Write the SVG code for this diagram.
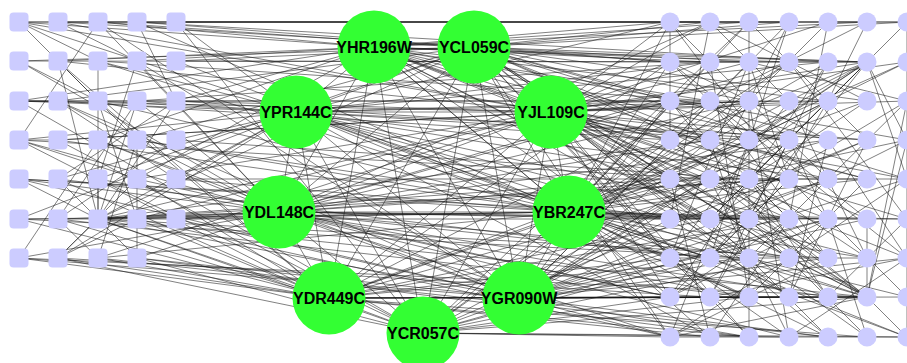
<svg xmlns="http://www.w3.org/2000/svg" width="907" height="363" viewBox="0 0 907 363">
<style>
.e line{stroke:#1a1a1a;stroke-opacity:.55;stroke-width:1}
.sq{fill:#ccccff}
.ci{fill:#ccccff}
.hub circle{fill:#33ff33}
.hub text{font-family:"Liberation Sans",Arial,sans-serif;font-weight:bold;font-size:16px;text-anchor:middle;fill:#000}
</style>
<rect width="907" height="363" fill="#fff"/>
<g id="edges" class="e">
<!-- hub-hub -->
<line x1="374" y1="45" x2="474" y2="45"/><line x1="374" y1="49" x2="474" y2="49"/>
<line x1="374" y1="47" x2="296" y2="112"/><line x1="374" y1="47" x2="551" y2="112"/><line x1="374" y1="47" x2="279" y2="212"/><line x1="374" y1="47" x2="569" y2="212"/><line x1="374" y1="47" x2="329" y2="298"/><line x1="374" y1="47" x2="519" y2="298"/><line x1="374" y1="47" x2="423" y2="333"/>
<line x1="474" y1="47" x2="296" y2="112"/><line x1="474" y1="47" x2="551" y2="112"/><line x1="474" y1="47" x2="279" y2="212"/><line x1="474" y1="47" x2="569" y2="212"/><line x1="474" y1="47" x2="329" y2="298"/><line x1="474" y1="47" x2="519" y2="298"/><line x1="474" y1="47" x2="423" y2="333"/>
<line x1="296" y1="112" x2="551" y2="112"/><line x1="296" y1="112" x2="279" y2="212"/><line x1="296" y1="112" x2="569" y2="212"/><line x1="296" y1="112" x2="329" y2="298"/><line x1="296" y1="112" x2="519" y2="298"/><line x1="296" y1="112" x2="423" y2="333"/>
<line x1="551" y1="112" x2="279" y2="212"/><line x1="551" y1="112" x2="569" y2="212"/><line x1="551" y1="112" x2="329" y2="298"/><line x1="551" y1="112" x2="519" y2="298"/><line x1="551" y1="112" x2="423" y2="333"/>
<line x1="279" y1="212" x2="569" y2="212"/><line x1="279" y1="212" x2="329" y2="298"/><line x1="279" y1="212" x2="519" y2="298"/><line x1="279" y1="212" x2="423" y2="333"/>
<line x1="569" y1="212" x2="329" y2="298"/><line x1="569" y1="212" x2="519" y2="298"/><line x1="569" y1="212" x2="423" y2="333"/>
<line x1="329" y1="298" x2="519" y2="298"/><line x1="329" y1="298" x2="423" y2="333"/><line x1="519" y1="298" x2="423" y2="333"/>
<!-- YHR196W -->
<line x1="374" y1="47" x2="19" y2="22"/><line x1="374" y1="47" x2="98" y2="22"/><line x1="374" y1="47" x2="58" y2="61"/><line x1="374" y1="47" x2="137" y2="61"/><line x1="374" y1="47" x2="19" y2="101"/><line x1="374" y1="47" x2="176" y2="101"/><line x1="374" y1="47" x2="98" y2="140"/><line x1="374" y1="47" x2="137" y2="179"/>
<line x1="374" y1="47" x2="670" y2="22"/><line x1="374" y1="47" x2="749" y2="22"/><line x1="374" y1="47" x2="867" y2="22"/><line x1="374" y1="47" x2="710" y2="62"/><line x1="374" y1="47" x2="789" y2="62"/><line x1="374" y1="47" x2="867" y2="62"/><line x1="374" y1="47" x2="710" y2="101"/><line x1="374" y1="47" x2="828" y2="101"/><line x1="374" y1="47" x2="670" y2="140"/><line x1="374" y1="47" x2="789" y2="140"/><line x1="374" y1="47" x2="907" y2="140"/><line x1="374" y1="47" x2="749" y2="179"/><line x1="374" y1="47" x2="867" y2="179"/><line x1="374" y1="47" x2="710" y2="219"/><line x1="374" y1="47" x2="828" y2="219"/><line x1="374" y1="47" x2="749" y2="258"/><line x1="374" y1="47" x2="907" y2="258"/><line x1="374" y1="47" x2="670" y2="297"/><line x1="374" y1="47" x2="867" y2="297"/><line x1="374" y1="47" x2="789" y2="337"/>
<!-- YCL059C -->
<line x1="474" y1="47" x2="58" y2="22"/><line x1="474" y1="47" x2="137" y2="22"/><line x1="474" y1="47" x2="19" y2="61"/><line x1="474" y1="47" x2="176" y2="61"/><line x1="474" y1="47" x2="58" y2="101"/><line x1="474" y1="47" x2="137" y2="140"/><line x1="474" y1="47" x2="98" y2="179"/><line x1="474" y1="47" x2="98" y2="219"/>
<line x1="474" y1="47" x2="710" y2="22"/><line x1="474" y1="47" x2="789" y2="22"/><line x1="474" y1="47" x2="907" y2="22"/><line x1="474" y1="47" x2="670" y2="62"/><line x1="474" y1="47" x2="749" y2="62"/><line x1="474" y1="47" x2="867" y2="62"/><line x1="474" y1="47" x2="670" y2="101"/><line x1="474" y1="47" x2="749" y2="101"/><line x1="474" y1="47" x2="867" y2="101"/><line x1="474" y1="47" x2="710" y2="140"/><line x1="474" y1="47" x2="828" y2="140"/><line x1="474" y1="47" x2="670" y2="179"/><line x1="474" y1="47" x2="789" y2="179"/><line x1="474" y1="47" x2="907" y2="179"/><line x1="474" y1="47" x2="749" y2="219"/><line x1="474" y1="47" x2="867" y2="219"/><line x1="474" y1="47" x2="670" y2="258"/><line x1="474" y1="47" x2="789" y2="258"/><line x1="474" y1="47" x2="710" y2="297"/><line x1="474" y1="47" x2="867" y2="297"/><line x1="474" y1="47" x2="670" y2="337"/><line x1="474" y1="47" x2="828" y2="337"/>
<!-- YPR144C -->
<line x1="296" y1="112" x2="19" y2="22"/><line x1="296" y1="112" x2="176" y2="22"/><line x1="296" y1="112" x2="98" y2="61"/><line x1="296" y1="112" x2="19" y2="101"/><line x1="296" y1="112" x2="98" y2="101"/><line x1="296" y1="112" x2="137" y2="101"/><line x1="296" y1="112" x2="19" y2="140"/><line x1="296" y1="112" x2="176" y2="140"/><line x1="296" y1="112" x2="58" y2="179"/><line x1="296" y1="112" x2="176" y2="179"/><line x1="296" y1="112" x2="19" y2="219"/><line x1="296" y1="112" x2="98" y2="219"/><line x1="296" y1="112" x2="58" y2="258"/>
<line x1="296" y1="112" x2="670" y2="22"/><line x1="296" y1="112" x2="710" y2="62"/><line x1="296" y1="112" x2="828" y2="62"/><line x1="296" y1="112" x2="670" y2="101"/><line x1="296" y1="112" x2="789" y2="101"/><line x1="296" y1="112" x2="749" y2="140"/><line x1="296" y1="112" x2="867" y2="140"/><line x1="296" y1="112" x2="710" y2="179"/><line x1="296" y1="112" x2="828" y2="179"/><line x1="296" y1="112" x2="670" y2="219"/><line x1="296" y1="112" x2="789" y2="219"/><line x1="296" y1="112" x2="710" y2="258"/><line x1="296" y1="112" x2="867" y2="258"/><line x1="296" y1="112" x2="749" y2="297"/><line x1="296" y1="112" x2="867" y2="297"/><line x1="296" y1="112" x2="710" y2="337"/>
<!-- YJL109C -->
<line x1="551" y1="112" x2="19" y2="22"/><line x1="551" y1="112" x2="58" y2="22"/><line x1="551" y1="112" x2="58" y2="61"/><line x1="551" y1="112" x2="19" y2="101"/><line x1="551" y1="112" x2="176" y2="101"/><line x1="551" y1="112" x2="58" y2="140"/><line x1="551" y1="112" x2="137" y2="179"/><line x1="551" y1="112" x2="98" y2="219"/><line x1="551" y1="112" x2="137" y2="219"/><line x1="551" y1="112" x2="98" y2="258"/>
<line x1="551" y1="112" x2="670" y2="22"/><line x1="551" y1="112" x2="710" y2="22"/><line x1="551" y1="112" x2="828" y2="22"/><line x1="551" y1="112" x2="670" y2="62"/><line x1="551" y1="112" x2="749" y2="62"/><line x1="551" y1="112" x2="867" y2="62"/><line x1="551" y1="112" x2="907" y2="62"/><line x1="551" y1="112" x2="710" y2="101"/><line x1="551" y1="112" x2="749" y2="101"/><line x1="551" y1="112" x2="828" y2="101"/><line x1="551" y1="112" x2="907" y2="101"/><line x1="551" y1="112" x2="670" y2="140"/><line x1="551" y1="112" x2="710" y2="140"/><line x1="551" y1="112" x2="789" y2="140"/><line x1="551" y1="112" x2="867" y2="140"/><line x1="551" y1="112" x2="670" y2="179"/><line x1="551" y1="112" x2="749" y2="179"/><line x1="551" y1="112" x2="828" y2="179"/><line x1="551" y1="112" x2="907" y2="179"/><line x1="551" y1="112" x2="710" y2="219"/><line x1="551" y1="112" x2="789" y2="219"/><line x1="551" y1="112" x2="907" y2="219"/><line x1="551" y1="112" x2="670" y2="258"/><line x1="551" y1="112" x2="749" y2="258"/><line x1="551" y1="112" x2="828" y2="258"/><line x1="551" y1="112" x2="670" y2="297"/><line x1="551" y1="112" x2="789" y2="297"/><line x1="551" y1="112" x2="867" y2="297"/><line x1="551" y1="112" x2="749" y2="337"/><line x1="551" y1="112" x2="867" y2="337"/>
<!-- YDL148C -->
<line x1="279" y1="212" x2="98" y2="22"/><line x1="279" y1="212" x2="19" y2="61"/><line x1="279" y1="212" x2="137" y2="61"/><line x1="279" y1="212" x2="58" y2="101"/><line x1="279" y1="212" x2="137" y2="101"/><line x1="279" y1="212" x2="19" y2="140"/><line x1="279" y1="212" x2="98" y2="140"/><line x1="279" y1="212" x2="19" y2="179"/><line x1="279" y1="212" x2="98" y2="179"/><line x1="279" y1="212" x2="58" y2="219"/><line x1="279" y1="212" x2="98" y2="219"/><line x1="279" y1="212" x2="137" y2="219"/><line x1="279" y1="212" x2="176" y2="219"/><line x1="279" y1="212" x2="19" y2="258"/><line x1="279" y1="212" x2="137" y2="258"/>
<line x1="279" y1="212" x2="710" y2="22"/><line x1="279" y1="212" x2="789" y2="62"/><line x1="279" y1="212" x2="670" y2="101"/><line x1="279" y1="212" x2="749" y2="101"/><line x1="279" y1="212" x2="710" y2="140"/><line x1="279" y1="212" x2="828" y2="140"/><line x1="279" y1="212" x2="710" y2="179"/><line x1="279" y1="212" x2="789" y2="179"/><line x1="279" y1="212" x2="670" y2="219"/><line x1="279" y1="212" x2="749" y2="219"/><line x1="279" y1="212" x2="867" y2="219"/><line x1="279" y1="212" x2="710" y2="258"/><line x1="279" y1="212" x2="789" y2="258"/><line x1="279" y1="212" x2="670" y2="297"/><line x1="279" y1="212" x2="749" y2="297"/><line x1="279" y1="212" x2="828" y2="297"/><line x1="279" y1="212" x2="670" y2="337"/><line x1="279" y1="212" x2="789" y2="337"/>
<!-- YBR247C -->
<line x1="569" y1="212" x2="137" y2="22"/><line x1="569" y1="212" x2="98" y2="61"/><line x1="569" y1="212" x2="176" y2="61"/><line x1="569" y1="212" x2="98" y2="101"/><line x1="569" y1="212" x2="58" y2="140"/><line x1="569" y1="212" x2="137" y2="140"/><line x1="569" y1="212" x2="19" y2="179"/><line x1="569" y1="212" x2="176" y2="179"/><line x1="569" y1="212" x2="19" y2="219"/><line x1="569" y1="212" x2="98" y2="219"/><line x1="569" y1="212" x2="176" y2="219"/><line x1="569" y1="212" x2="98" y2="258"/>
<line x1="569" y1="212" x2="670" y2="22"/><line x1="569" y1="212" x2="749" y2="22"/><line x1="569" y1="212" x2="670" y2="62"/><line x1="569" y1="212" x2="710" y2="62"/><line x1="569" y1="212" x2="828" y2="62"/><line x1="569" y1="212" x2="907" y2="62"/><line x1="569" y1="212" x2="670" y2="101"/><line x1="569" y1="212" x2="710" y2="101"/><line x1="569" y1="212" x2="789" y2="101"/><line x1="569" y1="212" x2="867" y2="101"/><line x1="569" y1="212" x2="670" y2="140"/><line x1="569" y1="212" x2="749" y2="140"/><line x1="569" y1="212" x2="828" y2="140"/><line x1="569" y1="212" x2="907" y2="140"/><line x1="569" y1="212" x2="670" y2="179"/><line x1="569" y1="212" x2="710" y2="179"/><line x1="569" y1="212" x2="789" y2="179"/><line x1="569" y1="212" x2="867" y2="179"/><line x1="569" y1="212" x2="670" y2="219"/><line x1="569" y1="212" x2="710" y2="219"/><line x1="569" y1="212" x2="749" y2="219"/><line x1="569" y1="212" x2="828" y2="219"/><line x1="569" y1="212" x2="907" y2="219"/><line x1="569" y1="212" x2="670" y2="258"/><line x1="569" y1="212" x2="710" y2="258"/><line x1="569" y1="212" x2="789" y2="258"/><line x1="569" y1="212" x2="867" y2="258"/><line x1="569" y1="212" x2="710" y2="297"/><line x1="569" y1="212" x2="749" y2="297"/><line x1="569" y1="212" x2="828" y2="297"/><line x1="569" y1="212" x2="867" y2="297"/><line x1="569" y1="212" x2="670" y2="337"/><line x1="569" y1="212" x2="710" y2="337"/><line x1="569" y1="212" x2="828" y2="337"/><line x1="569" y1="212" x2="907" y2="337"/>
<!-- YDR449C -->
<line x1="329" y1="298" x2="58" y2="61"/><line x1="329" y1="298" x2="98" y2="101"/><line x1="329" y1="298" x2="19" y2="140"/><line x1="329" y1="298" x2="58" y2="179"/><line x1="329" y1="298" x2="137" y2="179"/><line x1="329" y1="298" x2="19" y2="219"/><line x1="329" y1="298" x2="58" y2="219"/><line x1="329" y1="298" x2="98" y2="219"/><line x1="329" y1="298" x2="137" y2="219"/><line x1="329" y1="298" x2="19" y2="258"/><line x1="329" y1="298" x2="58" y2="258"/><line x1="329" y1="298" x2="98" y2="258"/>
<line x1="329" y1="298" x2="670" y2="62"/><line x1="329" y1="298" x2="710" y2="101"/><line x1="329" y1="298" x2="749" y2="140"/><line x1="329" y1="298" x2="670" y2="179"/><line x1="329" y1="298" x2="749" y2="179"/><line x1="329" y1="298" x2="710" y2="219"/><line x1="329" y1="298" x2="789" y2="219"/><line x1="329" y1="298" x2="670" y2="258"/><line x1="329" y1="298" x2="749" y2="258"/><line x1="329" y1="298" x2="670" y2="297"/><line x1="329" y1="298" x2="710" y2="297"/><line x1="329" y1="298" x2="789" y2="297"/><line x1="329" y1="298" x2="867" y2="297"/><line x1="329" y1="298" x2="710" y2="337"/><line x1="329" y1="298" x2="749" y2="337"/><line x1="329" y1="298" x2="867" y2="337"/>
<!-- YGR090W -->
<line x1="519" y1="298" x2="98" y2="22"/><line x1="519" y1="298" x2="137" y2="61"/><line x1="519" y1="298" x2="58" y2="101"/><line x1="519" y1="298" x2="98" y2="140"/><line x1="519" y1="298" x2="19" y2="179"/><line x1="519" y1="298" x2="98" y2="219"/><line x1="519" y1="298" x2="176" y2="219"/><line x1="519" y1="298" x2="19" y2="258"/><line x1="519" y1="298" x2="137" y2="258"/>
<line x1="519" y1="298" x2="789" y2="22"/><line x1="519" y1="298" x2="749" y2="62"/><line x1="519" y1="298" x2="867" y2="62"/><line x1="519" y1="298" x2="670" y2="101"/><line x1="519" y1="298" x2="828" y2="101"/><line x1="519" y1="298" x2="710" y2="140"/><line x1="519" y1="298" x2="789" y2="140"/><line x1="519" y1="298" x2="710" y2="179"/><line x1="519" y1="298" x2="828" y2="179"/><line x1="519" y1="298" x2="907" y2="179"/><line x1="519" y1="298" x2="670" y2="219"/><line x1="519" y1="298" x2="749" y2="219"/><line x1="519" y1="298" x2="867" y2="219"/><line x1="519" y1="298" x2="670" y2="258"/><line x1="519" y1="298" x2="749" y2="258"/><line x1="519" y1="298" x2="828" y2="258"/><line x1="519" y1="298" x2="907" y2="258"/><line x1="519" y1="298" x2="670" y2="297"/><line x1="519" y1="298" x2="710" y2="297"/><line x1="519" y1="298" x2="749" y2="297"/><line x1="519" y1="298" x2="789" y2="297"/><line x1="519" y1="298" x2="867" y2="297"/><line x1="519" y1="298" x2="907" y2="297"/><line x1="519" y1="298" x2="670" y2="337"/><line x1="519" y1="298" x2="749" y2="337"/><line x1="519" y1="298" x2="828" y2="337"/>
<!-- YCR057C -->
<line x1="423" y1="333" x2="176" y2="22"/><line x1="423" y1="333" x2="19" y2="101"/><line x1="423" y1="333" x2="58" y2="140"/><line x1="423" y1="333" x2="98" y2="179"/><line x1="423" y1="333" x2="98" y2="219"/><line x1="423" y1="333" x2="58" y2="258"/><line x1="423" y1="333" x2="137" y2="258"/>
<line x1="423" y1="333" x2="749" y2="22"/><line x1="423" y1="333" x2="789" y2="62"/><line x1="423" y1="333" x2="749" y2="101"/><line x1="423" y1="333" x2="867" y2="140"/><line x1="423" y1="333" x2="710" y2="179"/><line x1="423" y1="333" x2="828" y2="219"/><line x1="423" y1="333" x2="710" y2="258"/><line x1="423" y1="333" x2="789" y2="258"/><line x1="423" y1="333" x2="670" y2="297"/><line x1="423" y1="333" x2="749" y2="297"/><line x1="423" y1="333" x2="867" y2="297"/><line x1="423" y1="333" x2="670" y2="337"/><line x1="423" y1="333" x2="789" y2="337"/><line x1="423" y1="333" x2="907" y2="337"/>
<!-- left to right -->
<line x1="19" y1="22" x2="670" y2="22"/><line x1="58" y1="22" x2="789" y2="22"/><line x1="98" y1="22" x2="670" y2="62"/><line x1="176" y1="22" x2="710" y2="22"/><line x1="176" y1="22" x2="867" y2="22"/><line x1="19" y1="61" x2="749" y2="62"/><line x1="98" y1="61" x2="710" y2="101"/><line x1="176" y1="61" x2="867" y2="62"/><line x1="19" y1="101" x2="670" y2="101"/><line x1="19" y1="101" x2="828" y2="101"/><line x1="58" y1="101" x2="670" y2="140"/><line x1="137" y1="101" x2="710" y2="62"/><line x1="176" y1="101" x2="789" y2="140"/><line x1="19" y1="140" x2="710" y2="179"/><line x1="58" y1="140" x2="749" y2="101"/><line x1="137" y1="140" x2="670" y2="219"/><line x1="176" y1="140" x2="749" y2="179"/><line x1="19" y1="179" x2="749" y2="219"/><line x1="58" y1="179" x2="710" y2="258"/><line x1="137" y1="179" x2="670" y2="297"/><line x1="176" y1="179" x2="867" y2="179"/><line x1="19" y1="219" x2="749" y2="258"/><line x1="58" y1="219" x2="749" y2="297"/><line x1="98" y1="219" x2="710" y2="140"/><line x1="98" y1="219" x2="670" y2="179"/><line x1="98" y1="219" x2="789" y2="219"/><line x1="98" y1="219" x2="828" y2="258"/><line x1="98" y1="219" x2="867" y2="297"/><line x1="98" y1="219" x2="789" y2="179"/><line x1="137" y1="219" x2="670" y2="337"/><line x1="19" y1="258" x2="867" y2="297"/><line x1="58" y1="258" x2="710" y2="297"/><line x1="98" y1="258" x2="828" y2="337"/><line x1="137" y1="258" x2="749" y2="337"/><line x1="19" y1="22" x2="907" y2="22"/><line x1="137" y1="22" x2="828" y2="62"/>
<!-- left to left -->
<line x1="19" y1="22" x2="98" y2="61"/><line x1="19" y1="22" x2="98" y2="101"/><line x1="58" y1="22" x2="137" y2="61"/><line x1="98" y1="22" x2="19" y2="140"/><line x1="137" y1="22" x2="176" y2="101"/><line x1="19" y1="61" x2="98" y2="101"/><line x1="58" y1="61" x2="137" y2="140"/><line x1="98" y1="61" x2="98" y2="219"/><line x1="137" y1="61" x2="98" y2="179"/><line x1="19" y1="101" x2="58" y2="101"/><line x1="58" y1="101" x2="176" y2="179"/><line x1="98" y1="101" x2="137" y2="219"/><line x1="137" y1="101" x2="58" y2="219"/><line x1="19" y1="140" x2="58" y2="140"/><line x1="19" y1="140" x2="137" y2="179"/><line x1="98" y1="140" x2="19" y2="258"/><line x1="137" y1="140" x2="98" y2="258"/><line x1="176" y1="140" x2="58" y2="219"/><line x1="19" y1="179" x2="98" y2="219"/><line x1="58" y1="179" x2="98" y2="219"/><line x1="98" y1="179" x2="98" y2="219"/><line x1="19" y1="219" x2="98" y2="219"/><line x1="58" y1="219" x2="98" y2="258"/><line x1="98" y1="219" x2="58" y2="258"/><line x1="98" y1="219" x2="137" y2="258"/><line x1="137" y1="219" x2="58" y2="258"/><line x1="58" y1="258" x2="137" y2="179"/><line x1="176" y1="101" x2="58" y2="179"/><line x1="137" y1="140" x2="137" y2="258"/><line x1="98" y1="219" x2="137" y2="101"/><line x1="98" y1="219" x2="176" y2="101"/><line x1="98" y1="219" x2="58" y2="61"/>
<!-- right to right -->
<line x1="749" y1="22" x2="749" y2="337"/><line x1="670" y1="22" x2="907" y2="22"/><line x1="670" y1="337" x2="907" y2="337"/><line x1="907" y1="62" x2="907" y2="337"/><line x1="670" y1="22" x2="670" y2="140"/>
<line x1="867" y1="62" x2="670" y2="140"/><line x1="867" y1="62" x2="670" y2="179"/><line x1="867" y1="62" x2="710" y2="219"/><line x1="867" y1="62" x2="789" y2="101"/><line x1="867" y1="62" x2="749" y2="140"/><line x1="867" y1="62" x2="670" y2="62"/><line x1="867" y1="62" x2="749" y2="179"/><line x1="867" y1="62" x2="710" y2="258"/><line x1="867" y1="62" x2="907" y2="140"/><line x1="867" y1="62" x2="907" y2="179"/>
<line x1="867" y1="297" x2="670" y2="140"/><line x1="867" y1="297" x2="710" y2="179"/><line x1="867" y1="297" x2="749" y2="219"/><line x1="867" y1="297" x2="789" y2="258"/><line x1="867" y1="297" x2="670" y2="297"/><line x1="867" y1="297" x2="710" y2="297"/><line x1="867" y1="297" x2="867" y2="219"/><line x1="867" y1="297" x2="907" y2="101"/><line x1="867" y1="297" x2="907" y2="140"/><line x1="867" y1="297" x2="907" y2="337"/><line x1="867" y1="297" x2="670" y2="337"/>
<line x1="670" y1="22" x2="710" y2="62"/><line x1="710" y1="22" x2="789" y2="101"/><line x1="789" y1="22" x2="749" y2="101"/><line x1="828" y1="22" x2="710" y2="140"/><line x1="867" y1="22" x2="828" y2="101"/><line x1="907" y1="22" x2="789" y2="140"/><line x1="670" y1="62" x2="749" y2="140"/><line x1="710" y1="62" x2="828" y2="179"/><line x1="749" y1="62" x2="789" y2="179"/><line x1="789" y1="62" x2="670" y2="140"/><line x1="828" y1="62" x2="749" y2="219"/><line x1="670" y1="101" x2="789" y2="219"/><line x1="710" y1="101" x2="828" y2="258"/><line x1="749" y1="101" x2="710" y2="179"/><line x1="789" y1="101" x2="670" y2="258"/><line x1="828" y1="101" x2="710" y2="297"/><line x1="867" y1="101" x2="749" y2="179"/><line x1="907" y1="101" x2="828" y2="179"/><line x1="710" y1="140" x2="749" y2="258"/><line x1="789" y1="140" x2="828" y2="219"/><line x1="828" y1="140" x2="789" y2="297"/><line x1="867" y1="140" x2="670" y2="219"/><line x1="670" y1="179" x2="710" y2="337"/><line x1="710" y1="179" x2="789" y2="337"/><line x1="749" y1="179" x2="867" y2="258"/><line x1="789" y1="179" x2="907" y2="297"/><line x1="828" y1="179" x2="749" y2="258"/><line x1="907" y1="179" x2="789" y2="258"/><line x1="670" y1="219" x2="789" y2="297"/><line x1="710" y1="219" x2="828" y2="337"/><line x1="789" y1="219" x2="670" y2="297"/><line x1="828" y1="219" x2="867" y2="337"/><line x1="907" y1="219" x2="828" y2="297"/><line x1="670" y1="258" x2="749" y2="337"/><line x1="710" y1="258" x2="907" y2="337"/><line x1="828" y1="258" x2="670" y2="337"/><line x1="907" y1="258" x2="789" y2="337"/><line x1="907" y1="22" x2="907" y2="62"/>
<line x1="670" y1="22" x2="789" y2="179"/><line x1="710" y1="22" x2="670" y2="219"/><line x1="749" y1="22" x2="867" y2="140"/><line x1="789" y1="22" x2="710" y2="258"/><line x1="828" y1="22" x2="789" y2="219"/><line x1="867" y1="22" x2="710" y2="101"/><line x1="670" y1="62" x2="867" y2="219"/><line x1="710" y1="62" x2="749" y2="297"/><line x1="749" y1="62" x2="670" y2="258"/><line x1="789" y1="62" x2="907" y2="219"/><line x1="828" y1="62" x2="670" y2="297"/><line x1="907" y1="62" x2="749" y2="140"/><line x1="670" y1="101" x2="828" y2="297"/><line x1="710" y1="101" x2="907" y2="258"/><line x1="749" y1="101" x2="789" y2="337"/><line x1="789" y1="101" x2="867" y2="258"/><line x1="828" y1="101" x2="670" y2="179"/><line x1="907" y1="101" x2="710" y2="219"/><line x1="670" y1="140" x2="828" y2="258"/><line x1="710" y1="140" x2="867" y2="179"/><line x1="749" y1="140" x2="670" y2="337"/><line x1="789" y1="140" x2="710" y2="297"/><line x1="828" y1="140" x2="907" y2="258"/><line x1="907" y1="140" x2="749" y2="219"/><line x1="670" y1="179" x2="789" y2="258"/><line x1="710" y1="179" x2="907" y2="179"/><line x1="749" y1="179" x2="828" y2="297"/><line x1="789" y1="179" x2="670" y2="297"/><line x1="828" y1="179" x2="710" y2="219"/><line x1="867" y1="179" x2="749" y2="297"/><line x1="670" y1="219" x2="907" y2="219"/><line x1="710" y1="219" x2="789" y2="140"/><line x1="749" y1="219" x2="867" y2="337"/><line x1="789" y1="219" x2="710" y2="337"/><line x1="828" y1="219" x2="670" y2="258"/><line x1="670" y1="258" x2="867" y2="258"/><line x1="710" y1="258" x2="789" y2="179"/><line x1="749" y1="258" x2="907" y2="297"/><line x1="789" y1="258" x2="670" y2="337"/><line x1="828" y1="258" x2="749" y2="179"/><line x1="670" y1="297" x2="828" y2="219"/><line x1="710" y1="297" x2="907" y2="258"/><line x1="789" y1="297" x2="867" y2="140"/><line x1="670" y1="62" x2="828" y2="140"/><line x1="710" y1="22" x2="867" y2="101"/><line x1="749" y1="62" x2="907" y2="101"/>
</g>
<g id="left-nodes">
<g id="L00"><rect class="sq" x="9.5" y="12.5" width="19" height="19" rx="4"/></g>
<g id="L01"><rect class="sq" x="48.5" y="12.5" width="19" height="19" rx="4"/></g>
<g id="L02"><rect class="sq" x="88.5" y="12.5" width="19" height="19" rx="4"/></g>
<g id="L03"><rect class="sq" x="127.5" y="12.5" width="19" height="19" rx="4"/></g>
<g id="L04"><rect class="sq" x="166.5" y="12.5" width="19" height="19" rx="4"/></g>
<g id="L10"><rect class="sq" x="9.5" y="51.5" width="19" height="19" rx="4"/></g>
<g id="L11"><rect class="sq" x="48.5" y="51.5" width="19" height="19" rx="4"/></g>
<g id="L12"><rect class="sq" x="88.5" y="51.5" width="19" height="19" rx="4"/></g>
<g id="L13"><rect class="sq" x="127.5" y="51.5" width="19" height="19" rx="4"/></g>
<g id="L14"><rect class="sq" x="166.5" y="51.5" width="19" height="19" rx="4"/></g>
<g id="L20"><rect class="sq" x="9.5" y="91.5" width="19" height="19" rx="4"/></g>
<g id="L21"><rect class="sq" x="48.5" y="91.5" width="19" height="19" rx="4"/></g>
<g id="L22"><rect class="sq" x="88.5" y="91.5" width="19" height="19" rx="4"/></g>
<g id="L23"><rect class="sq" x="127.5" y="91.5" width="19" height="19" rx="4"/></g>
<g id="L24"><rect class="sq" x="166.5" y="91.5" width="19" height="19" rx="4"/></g>
<g id="L30"><rect class="sq" x="9.5" y="130.5" width="19" height="19" rx="4"/></g>
<g id="L31"><rect class="sq" x="48.5" y="130.5" width="19" height="19" rx="4"/></g>
<g id="L32"><rect class="sq" x="88.5" y="130.5" width="19" height="19" rx="4"/></g>
<g id="L33"><rect class="sq" x="127.5" y="130.5" width="19" height="19" rx="4"/></g>
<g id="L34"><rect class="sq" x="166.5" y="130.5" width="19" height="19" rx="4"/></g>
<g id="L40"><rect class="sq" x="9.5" y="169.5" width="19" height="19" rx="4"/></g>
<g id="L41"><rect class="sq" x="48.5" y="169.5" width="19" height="19" rx="4"/></g>
<g id="L42"><rect class="sq" x="88.5" y="169.5" width="19" height="19" rx="4"/></g>
<g id="L43"><rect class="sq" x="127.5" y="169.5" width="19" height="19" rx="4"/></g>
<g id="L44"><rect class="sq" x="166.5" y="169.5" width="19" height="19" rx="4"/></g>
<g id="L50"><rect class="sq" x="9.5" y="209.5" width="19" height="19" rx="4"/></g>
<g id="L51"><rect class="sq" x="48.5" y="209.5" width="19" height="19" rx="4"/></g>
<g id="L52"><rect class="sq" x="88.5" y="209.5" width="19" height="19" rx="4"/></g>
<g id="L53"><rect class="sq" x="127.5" y="209.5" width="19" height="19" rx="4"/></g>
<g id="L54"><rect class="sq" x="166.5" y="209.5" width="19" height="19" rx="4"/></g>
<g id="L60"><rect class="sq" x="9.5" y="248.5" width="19" height="19" rx="4"/></g>
<g id="L61"><rect class="sq" x="48.5" y="248.5" width="19" height="19" rx="4"/></g>
<g id="L62"><rect class="sq" x="88.5" y="248.5" width="19" height="19" rx="4"/></g>
<g id="L63"><rect class="sq" x="127.5" y="248.5" width="19" height="19" rx="4"/></g>
</g>
<g id="right-nodes">
<g id="R00"><circle class="ci" cx="670" cy="22" r="9.5"/></g><g id="R01"><circle class="ci" cx="710" cy="22" r="9.5"/></g><g id="R02"><circle class="ci" cx="749" cy="22" r="9.5"/></g><g id="R03"><circle class="ci" cx="789" cy="22" r="9.5"/></g><g id="R04"><circle class="ci" cx="828" cy="22" r="9.5"/></g><g id="R05"><circle class="ci" cx="867" cy="22" r="9.5"/></g><g id="R06"><circle class="ci" cx="907" cy="22" r="9.5"/></g>
<g id="R10"><circle class="ci" cx="670" cy="62" r="9.5"/></g><g id="R11"><circle class="ci" cx="710" cy="62" r="9.5"/></g><g id="R12"><circle class="ci" cx="749" cy="62" r="9.5"/></g><g id="R13"><circle class="ci" cx="789" cy="62" r="9.5"/></g><g id="R14"><circle class="ci" cx="828" cy="62" r="9.5"/></g><g id="R15"><circle class="ci" cx="867" cy="62" r="9.5"/></g><g id="R16"><circle class="ci" cx="907" cy="62" r="9.5"/></g>
<g id="R20"><circle class="ci" cx="670" cy="101" r="9.5"/></g><g id="R21"><circle class="ci" cx="710" cy="101" r="9.5"/></g><g id="R22"><circle class="ci" cx="749" cy="101" r="9.5"/></g><g id="R23"><circle class="ci" cx="789" cy="101" r="9.5"/></g><g id="R24"><circle class="ci" cx="828" cy="101" r="9.5"/></g><g id="R25"><circle class="ci" cx="867" cy="101" r="9.5"/></g><g id="R26"><circle class="ci" cx="907" cy="101" r="9.5"/></g>
<g id="R30"><circle class="ci" cx="670" cy="140" r="9.5"/></g><g id="R31"><circle class="ci" cx="710" cy="140" r="9.5"/></g><g id="R32"><circle class="ci" cx="749" cy="140" r="9.5"/></g><g id="R33"><circle class="ci" cx="789" cy="140" r="9.5"/></g><g id="R34"><circle class="ci" cx="828" cy="140" r="9.5"/></g><g id="R35"><circle class="ci" cx="867" cy="140" r="9.5"/></g><g id="R36"><circle class="ci" cx="907" cy="140" r="9.5"/></g>
<g id="R40"><circle class="ci" cx="670" cy="179" r="9.5"/></g><g id="R41"><circle class="ci" cx="710" cy="179" r="9.5"/></g><g id="R42"><circle class="ci" cx="749" cy="179" r="9.5"/></g><g id="R43"><circle class="ci" cx="789" cy="179" r="9.5"/></g><g id="R44"><circle class="ci" cx="828" cy="179" r="9.5"/></g><g id="R45"><circle class="ci" cx="867" cy="179" r="9.5"/></g><g id="R46"><circle class="ci" cx="907" cy="179" r="9.5"/></g>
<g id="R50"><circle class="ci" cx="670" cy="219" r="9.5"/></g><g id="R51"><circle class="ci" cx="710" cy="219" r="9.5"/></g><g id="R52"><circle class="ci" cx="749" cy="219" r="9.5"/></g><g id="R53"><circle class="ci" cx="789" cy="219" r="9.5"/></g><g id="R54"><circle class="ci" cx="828" cy="219" r="9.5"/></g><g id="R55"><circle class="ci" cx="867" cy="219" r="9.5"/></g><g id="R56"><circle class="ci" cx="907" cy="219" r="9.5"/></g>
<g id="R60"><circle class="ci" cx="670" cy="258" r="9.5"/></g><g id="R61"><circle class="ci" cx="710" cy="258" r="9.5"/></g><g id="R62"><circle class="ci" cx="749" cy="258" r="9.5"/></g><g id="R63"><circle class="ci" cx="789" cy="258" r="9.5"/></g><g id="R64"><circle class="ci" cx="828" cy="258" r="9.5"/></g><g id="R65"><circle class="ci" cx="867" cy="258" r="9.5"/></g><g id="R66"><circle class="ci" cx="907" cy="258" r="9.5"/></g>
<g id="R70"><circle class="ci" cx="670" cy="297" r="9.5"/></g><g id="R71"><circle class="ci" cx="710" cy="297" r="9.5"/></g><g id="R72"><circle class="ci" cx="749" cy="297" r="9.5"/></g><g id="R73"><circle class="ci" cx="789" cy="297" r="9.5"/></g><g id="R74"><circle class="ci" cx="828" cy="297" r="9.5"/></g><g id="R75"><circle class="ci" cx="867" cy="297" r="9.5"/></g><g id="R76"><circle class="ci" cx="907" cy="297" r="9.5"/></g>
<g id="R80"><circle class="ci" cx="670" cy="337" r="9.5"/></g><g id="R81"><circle class="ci" cx="710" cy="337" r="9.5"/></g><g id="R82"><circle class="ci" cx="749" cy="337" r="9.5"/></g><g id="R83"><circle class="ci" cx="789" cy="337" r="9.5"/></g><g id="R84"><circle class="ci" cx="828" cy="337" r="9.5"/></g><g id="R85"><circle class="ci" cx="867" cy="337" r="9.5"/></g><g id="R86"><circle class="ci" cx="907" cy="337" r="9.5"/></g>
</g>
<g id="hubs">
<g id="YHR196W" class="hub"><circle cx="374" cy="47" r="36.5"/><text x="374" y="53">YHR196W</text></g>
<g id="YCL059C" class="hub"><circle cx="474" cy="47" r="36.5"/><text x="474" y="53">YCL059C</text></g>
<g id="YPR144C" class="hub"><circle cx="296" cy="112" r="36.5"/><text x="296" y="118">YPR144C</text></g>
<g id="YJL109C" class="hub"><circle cx="551" cy="112" r="36.5"/><text x="551" y="118">YJL109C</text></g>
<g id="YDL148C" class="hub"><circle cx="279" cy="212" r="36.5"/><text x="279" y="218">YDL148C</text></g>
<g id="YBR247C" class="hub"><circle cx="569" cy="212" r="36.5"/><text x="569" y="218">YBR247C</text></g>
<g id="YDR449C" class="hub"><circle cx="329" cy="298" r="36.5"/><text x="329" y="304">YDR449C</text></g>
<g id="YGR090W" class="hub"><circle cx="519" cy="298" r="36.5"/><text x="519" y="304">YGR090W</text></g>
<g id="YCR057C" class="hub"><circle cx="423" cy="333" r="36.5"/><text x="423" y="339">YCR057C</text></g>
</g>
</svg>
